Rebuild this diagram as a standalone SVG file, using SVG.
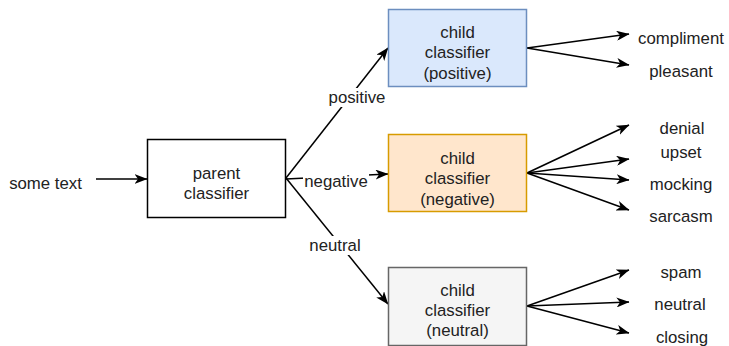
<svg xmlns="http://www.w3.org/2000/svg" width="729" height="346" viewBox="0 0 729 346">
  <style>
    text { font-family: "Liberation Sans", Arial, Helvetica, sans-serif; font-size: 16.8px; fill: #222222; text-anchor: middle; }
    .box { stroke-width: 1.5; }
    .edge { fill: none; stroke: #000000; stroke-width: 1.5; marker-end: url(#arrow); }
    .lbl-bg { fill: #ffffff; }
  </style>
  <defs>
    <marker id="arrow" viewBox="0 0 13 10" refX="12.5" refY="5" markerWidth="13" markerHeight="10" markerUnits="userSpaceOnUse" orient="auto">
      <path d="M0,0 L13,5 L0,10 L3.5,5 Z" fill="#000000"/>
    </marker>
  </defs>

  <rect width="729" height="346" fill="#ffffff"/>

  <!-- connectors -->
  <g id="connectors">
    <path class="edge" d="M96,179 L147,179"/>
    <path class="edge" d="M286,178 L388,48"/>
    <path class="edge" d="M286,179 L388,174"/>
    <path class="edge" d="M286,178 L388,304"/>

    <path class="edge" d="M527,48 L629,34"/>
    <path class="edge" d="M527,48 L629,65"/>

    <path class="edge" d="M527,173 L629,125"/>
    <path class="edge" d="M527,173 L629,159"/>
    <path class="edge" d="M527,173 L629,180"/>
    <path class="edge" d="M527,173 L629,210"/>

    <path class="edge" d="M527,306 L629,270"/>
    <path class="edge" d="M527,306 L629,302"/>
    <path class="edge" d="M527,306 L629,333"/>

    <!-- edge labels -->
    <g id="label-positive">
      <rect class="lbl-bg" x="327" y="88" width="60" height="19"/>
      <text x="357" y="103">positive</text>
    </g>
    <g id="label-negative">
      <rect class="lbl-bg" x="303" y="172" width="66" height="19"/>
      <text x="336" y="187">negative</text>
    </g>
    <g id="label-neutral">
      <rect class="lbl-bg" x="307" y="236" width="56" height="19"/>
      <text x="335" y="251">neutral</text>
    </g>
  </g>

  <g id="input">
    <text x="45.5" y="189">some text</text>
  </g>

  <g id="parent">
    <rect class="box" x="147.5" y="139.5" width="138" height="78" fill="#ffffff" stroke="#000000"/>
    <text x="216.5" y="179">parent</text>
    <text x="216.5" y="199">classifier</text>
  </g>

  <g id="child-positive">
    <rect class="box" x="388.5" y="9.5" width="138" height="77" fill="#dae8fc" stroke="#6c8ebf"/>
    <text x="457.5" y="37.5">child</text>
    <text x="457.5" y="58">classifier</text>
    <text x="457.5" y="78.5">(positive)</text>
  </g>

  <g id="child-negative">
    <rect class="box" x="388.5" y="134.5" width="138" height="77" fill="#ffe6cc" stroke="#d79b00"/>
    <text x="457.5" y="163.5">child</text>
    <text x="457.5" y="184">classifier</text>
    <text x="457.5" y="204.5">(negative)</text>
  </g>

  <g id="child-neutral">
    <rect class="box" x="388.5" y="267.5" width="138" height="78" fill="#f5f5f5" stroke="#666666"/>
    <text x="457.5" y="296">child</text>
    <text x="457.5" y="316">classifier</text>
    <text x="457.5" y="336">(neutral)</text>
  </g>

  <g id="out-compliment"><text x="681" y="44">compliment</text></g>
  <g id="out-pleasant"><text x="681" y="76.5">pleasant</text></g>
  <g id="out-denial"><text x="682" y="134">denial</text></g>
  <g id="out-upset"><text x="681" y="157.5">upset</text></g>
  <g id="out-mocking"><text x="681" y="190">mocking</text></g>
  <g id="out-sarcasm"><text x="681" y="222">sarcasm</text></g>
  <g id="out-spam"><text x="681" y="277.5">spam</text></g>
  <g id="out-neutral"><text x="680" y="310">neutral</text></g>
  <g id="out-closing"><text x="682" y="343">closing</text></g>
</svg>
